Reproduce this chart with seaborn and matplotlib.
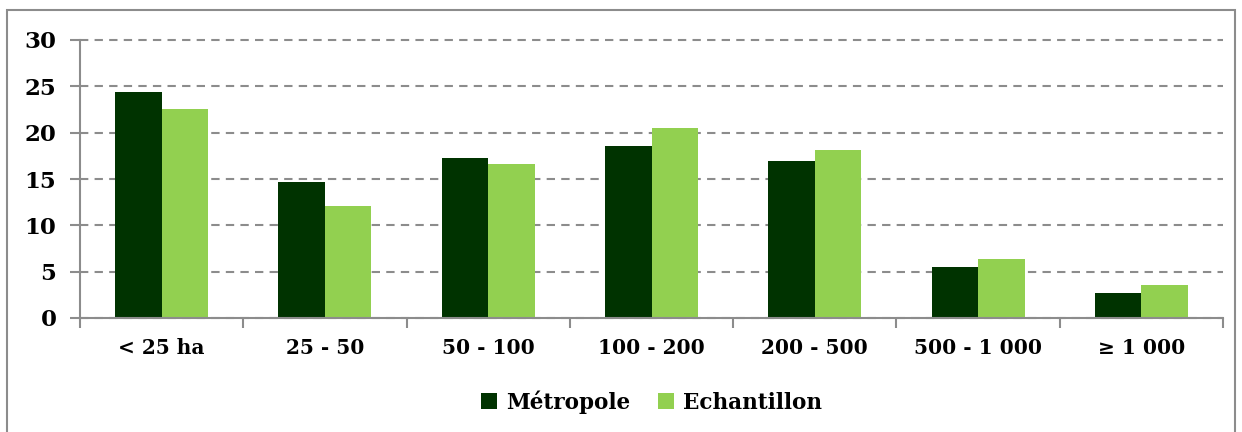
import pandas as pd
import matplotlib.pyplot as plt
import seaborn as sns
from matplotlib.patches import Rectangle

# Data
categories = ['< 25 ha', '25 - 50', '50 - 100', '100 - 200', '200 - 500', '500 - 1 000', '≥ 1 000']
metropole = [24.4, 14.7, 17.3, 18.6, 16.9, 5.5, 2.7]
echantillon = [22.6, 12.1, 16.6, 20.5, 18.1, 6.4, 3.6]
series_names = ['Métropole', 'Echantillon']
colors = ['#003300', '#92D050']

df = pd.DataFrame({
    'classe': categories * 2,
    'valeur': metropole + echantillon,
    'serie': [series_names[0]] * len(categories) + [series_names[1]] * len(categories),
})

sns.set_style('white')
plt.rcParams['font.family'] = ['DejaVu Serif']
plt.rcParams['font.weight'] = 'bold'
plt.rcParams['text.color'] = 'black'
plt.rcParams['xtick.labelcolor'] = 'black'
plt.rcParams['ytick.labelcolor'] = 'black'

fig = plt.figure(figsize=(12.42, 4.32), dpi=100)
ax = fig.add_axes([80 / 1242, 1 - 318 / 432, 1143 / 1242, 278 / 432])

sns.barplot(data=df, x='classe', y='valeur', hue='serie', palette=colors,
            width=0.57, ax=ax, edgecolor='none', linewidth=0, saturation=1)

ax.set_ylim(0, 30)
ax.set_xlim(-0.5, len(categories) - 0.5)
ax.set_yticks(range(0, 31, 5))
ax.yaxis.grid(True, linestyle=(0, (4, 3)), color='#8c8c8c', linewidth=1.5)
for gl in ax.get_ygridlines():
    gl.set_clip_on(False)
ax.set_axisbelow(True)
ax.set_xlabel('')
ax.set_ylabel('')

for side in ['top', 'right']:
    ax.spines[side].set_visible(False)
for side in ['left', 'bottom']:
    ax.spines[side].set_color('#8c8c8c')
    ax.spines[side].set_linewidth(1.5)

ax.tick_params(axis='y', which='major', left=True, length=7, width=1.5, color='#8c8c8c',
               labelsize=16.5, pad=10, labelcolor='black')
ax.tick_params(axis='x', which='major', bottom=False, labelsize=14.5, pad=11, labelcolor='black')
ax.set_xticks([i + 0.5 for i in range(-1, len(categories))], minor=True)
ax.tick_params(axis='x', which='minor', bottom=True, length=7, width=1.5, color='#8c8c8c')
for lbl in ax.get_xticklabels() + ax.get_yticklabels():
    lbl.set_fontweight('bold')

leg = ax.legend(loc='center', bbox_to_anchor=(0.5, (402 - 318) / -278), ncol=2, frameon=False,
                fontsize=15.5, handlelength=0.75, handleheight=0.75, handletextpad=0.4,
                columnspacing=1.3)
for t in leg.get_texts():
    t.set_fontweight('bold')
    t.set_color('black')

# outer border of the chart area
fig.patches.append(Rectangle((7 / 1242, -0.01), 1228 / 1242, 1 - 10 / 432 + 0.01,
                             transform=fig.transFigure, fill=False,
                             edgecolor='#8c8c8c', linewidth=1.5))

fig.savefig('out.png', dpi=100)
